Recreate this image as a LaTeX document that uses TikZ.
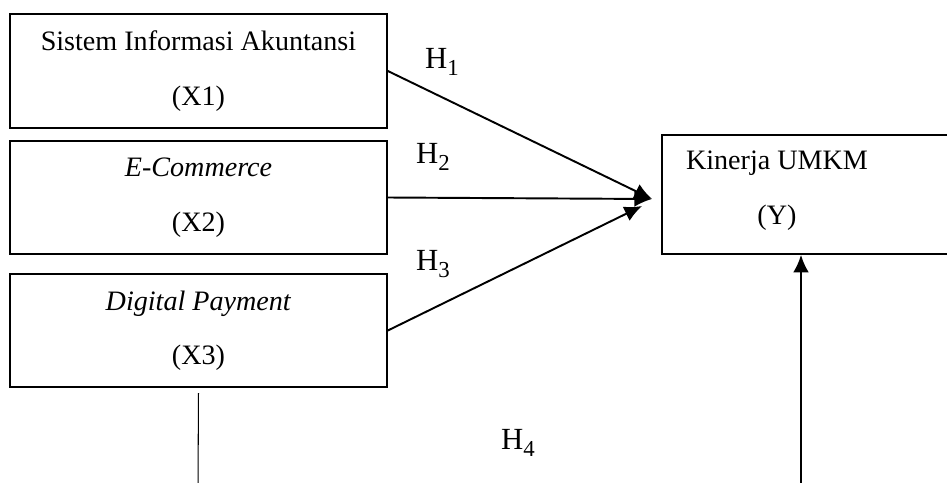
\documentclass[tikz,border=0pt]{standalone}
\usepackage{fontspec}
\setmainfont{Liberation Serif}
\usetikzlibrary{arrows.meta}

\newcommand{\hsub}[1]{H\raisebox{-0.45ex}{\fontsize{13}{13}\selectfont #1}}

\tikzset{
    varbox/.style={draw, line width=1pt, minimum width=7.54cm, minimum height=2.27cm, align=center, inner sep=0pt, font=\fontsize{16}{31}\selectfont},
    hyp/.style={font=\fontsize{17.5}{19}\selectfont},
    arr/.style={-{Latex[length=10pt,width=9pt]}, line width=1.1pt}
}

\begin{document}
\begin{tikzpicture}[x=0.02cm, y=-0.02cm]
                \useasboundingbox (0,0) rectangle (947,483);
                \node[varbox] (x1) at (198.5,71) {Sistem Informasi Akuntansi\\(X1)};
                \node[varbox] (x2) at (198.5,197.5) {\textit{E-Commerce}\\(X2)};
                \node[varbox] (x3) at (198.5,330.5) {\textit{Digital Payment}\\(X3)};
                \node[varbox, minimum width=5.96cm, minimum height=2.38cm] (y) at (811,194.5) {};
                \node[varbox, draw=none, minimum width=0pt, minimum height=0pt] (ytxt) at (777,190.5) {Kinerja UMKM\\(Y)};

                \coordinate (tip) at (652,199);
                \coordinate (tip3) at (642,206);
                \coordinate (b3) at (198,490);
                \coordinate (b4) at (801,490);

                \draw[arr] (x1.east) -- (tip);
                \draw[arr] (x2.east) -- (tip);
                \draw[arr] (x3.east) -- (tip3);
                \draw[line width=0.6pt, shorten <=0.1cm] (x3.south) -- (b3);
                \draw[arr] (b4) -- (y.south -| b4);

                \node[hyp] (h1) at (442,62) {\hsub{1}};
                \node[hyp] (h2) at (433,157) {\hsub{2}};
                \node[hyp] (h3) at (433,264) {\hsub{3}};
                \node[hyp] (h4) at (518,443) {\hsub{4}};
            \end{tikzpicture}
\end{document}
